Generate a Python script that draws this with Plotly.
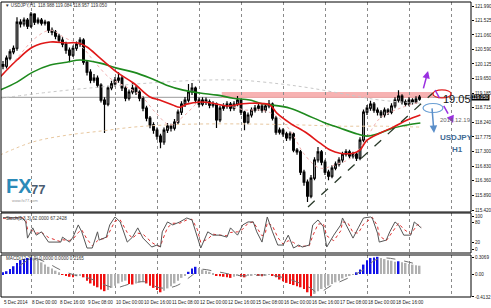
import plotly.graph_objects as go

# ---------------- DATA ----------------
# time axis in hours since 5 Dec 2014 08:00 (weekend removed), 2-hour bars
bar_hours = list(range(0, 240, 2))

opens = [120.10,120.05,120.31,120.51,120.63,121.47,121.41,121.54,121.34,121.73,
121.47,121.54,121.44,121.47,121.21,121.15,121.02,120.89,120.76,120.57,
120.41,120.63,120.76,120.89,120.18,119.86,119.60,119.67,119.44,118.96,
118.83,119.35,119.48,119.60,119.67,119.35,119.02,119.22,119.35,119.22,
119.02,118.70,118.38,118.16,117.99,117.80,117.61,117.99,118.12,118.06,
118.25,118.57,118.83,118.96,119.22,119.35,118.96,118.83,118.96,118.90,
118.80,118.83,118.32,118.70,118.77,118.83,118.70,118.83,118.96,118.57,
118.25,118.48,118.64,118.70,118.77,118.64,118.77,118.83,118.38,117.93,
117.99,117.87,117.74,117.87,117.35,117.29,116.64,116.32,115.87,116.45,
117.03,117.29,116.96,116.64,116.51,116.77,116.90,117.03,117.22,117.29,
117.16,117.22,117.09,117.67,118.57,118.70,118.83,118.64,118.57,118.48,
118.64,118.57,118.77,118.96,119.09,118.90,118.83,118.96,118.90,118.99]

highs = [120.22,120.40,120.60,120.72,121.63,121.56,121.62,121.60,121.80,121.76,
121.62,121.60,121.55,121.50,121.30,121.22,121.10,120.98,120.84,120.65,
120.72,120.85,120.98,120.95,120.25,119.95,119.80,119.75,119.50,119.05,
119.42,119.58,119.70,119.86,119.74,119.42,119.30,119.54,119.42,119.28,
119.08,118.78,118.45,118.25,118.08,117.88,118.08,118.22,118.20,118.35,
118.66,118.92,119.06,119.48,119.51,119.40,119.04,119.05,119.04,118.98,
118.92,118.88,118.78,118.86,118.92,118.90,118.92,119.09,119.00,118.62,
118.56,118.72,118.80,118.86,118.84,118.86,118.96,118.88,118.45,118.08,
118.05,117.94,117.95,117.92,117.42,117.35,116.72,116.40,116.55,117.12,
117.45,117.35,117.04,116.72,116.86,116.98,117.12,117.30,117.38,117.36,
117.30,117.28,117.76,118.66,118.80,118.94,118.90,118.72,118.64,118.72,
118.70,118.86,119.05,119.28,119.15,118.98,119.05,119.02,119.08,119.12]

lows = [119.95,119.98,120.24,120.44,120.55,121.30,121.33,121.25,121.28,121.38,
121.40,121.36,121.36,121.12,121.05,120.92,120.80,120.66,120.45,120.18,
120.35,120.55,120.68,120.10,119.75,119.50,119.52,119.35,118.88,117.90,
118.76,119.28,119.40,119.52,119.25,118.92,118.95,119.15,119.12,118.92,
118.60,118.28,118.05,117.88,117.68,117.41,117.52,117.90,117.95,117.98,
118.18,118.48,118.74,118.88,119.12,118.86,118.72,118.76,118.80,118.70,
118.72,118.06,118.25,118.62,118.68,118.60,118.62,118.76,118.48,117.99,
118.18,118.40,118.56,118.62,118.55,118.56,118.70,118.30,117.84,117.85,
117.78,117.64,117.66,117.28,117.20,116.55,116.20,115.68,115.80,116.38,
116.95,116.86,116.55,116.38,116.44,116.70,116.82,116.95,117.14,117.08,
117.08,117.00,117.02,117.60,118.48,118.62,118.55,118.46,118.38,118.40,
118.48,118.50,118.70,118.88,118.82,118.75,118.76,118.82,118.84,118.94]

closes = [120.05,120.31,120.51,120.63,121.47,121.41,121.54,121.34,121.73,121.47,
121.54,121.44,121.47,121.21,121.15,121.02,120.89,120.76,120.57,120.41,
120.63,120.76,120.89,120.18,119.86,119.60,119.67,119.44,118.96,118.83,
119.35,119.48,119.60,119.67,119.35,119.02,119.22,119.35,119.22,119.02,
118.70,118.38,118.16,117.99,117.80,117.61,117.99,118.12,118.06,118.25,
118.57,118.83,118.96,119.22,119.35,118.96,118.83,118.96,118.90,118.80,
118.83,118.32,118.70,118.77,118.83,118.70,118.83,118.96,118.57,118.25,
118.48,118.64,118.70,118.77,118.64,118.77,118.83,118.38,117.93,117.99,
117.87,117.74,117.87,117.35,117.29,116.64,116.32,115.87,116.45,117.03,
117.29,116.96,116.64,116.51,116.77,116.90,117.03,117.22,117.29,117.16,
117.22,117.09,117.67,118.57,118.70,118.83,118.64,118.57,118.48,118.64,
118.57,118.77,118.96,119.09,118.90,118.83,118.96,118.90,118.99,119.06]

# moving averages (hour, price)
red_ma_h = [-1.7,8,17,27,36.5,43,48,55.5,65,74.5,84,89.5,97,101,105,112.5,120,128,135.5,141,152.5,156.5,164,173.5,181,187,192.5,200,204,208,215.5,223,231,238.5]
red_ma = [119.70,120.25,120.67,120.83,120.80,120.80,120.67,120.31,119.86,119.51,119.06,118.96,118.80,118.73,118.83,118.90,118.86,118.77,118.83,118.86,118.80,118.54,118.22,117.90,117.58,117.35,117.25,117.25,117.35,117.67,117.90,118.09,118.32,118.48]

green_ma_h = [-1.7,8,17,27,36.5,44,55.5,65,74.5,84,93.5,103,112.5,122.5,131.5,141,147,164,173.5,183,192.5,202.5,208,215.5,223,231,238.5]
green_ma = [119.28,119.54,119.86,120.09,120.18,120.25,120.15,119.99,119.86,119.67,119.44,119.28,119.19,119.12,119.02,118.96,118.86,118.70,118.48,118.25,118.06,117.87,117.80,117.90,118.06,118.16,118.22]

tan_ma_h = [-1.7,17,36.5,55.5,74.5,93.5,112.5,141,169.5,192.5,215.5,238.5]
tan_ma = [117.19,117.61,117.83,117.96,118.09,118.16,118.19,118.19,118.16,118.12,118.12,118.09]

gray_ma_h = [-1.7,27,55.5,84,112.5,135.5,158.5,175.5,198.5,215.5,238.5]
gray_ma = [119.02,119.22,119.38,119.51,119.60,119.60,119.48,119.35,119.12,118.96,118.86]

pink_ma_h = [0,9.5,18.5,27,35.5,44,52.5,61,69.5,78.5,87,95.5,104,112.5,121,129.5,138.5,147,155.5,164,172.5,181,189.5,198.5,207,215.5,227,238.5]
pink_ma = [119.77,120.41,120.96,121.21,120.96,120.73,120.18,119.67,119.41,119.12,118.57,118.16,118.48,118.90,118.83,118.77,118.64,118.64,118.48,117.99,117.19,116.77,116.87,117.09,117.67,118.38,118.70,118.90]

# stochastic (5,3,3)
stoch_h = [0,6,11,13,14,17,19,22,26,33,34,38,40,43,45,48,51,54,55,59,61,64,67,71,74,77,80,85,88,90,91,94,97,101,105,108,111,113,117,120,124,128,130,134,137,140,143,145,148,150,151,154,157,160,163,166,169,171,175,177,180,183,185,189,193,194,197,200,203,206,210,211,214,215,219,221,224,226,229,233,235,237,239]
stoch_main = [95,95,94,82,33,64,42,52,21,21,36,21,36,73,52,3,3,52,27,36,73,97,82,21,36,64,33,6,12,6,52,82,73,82,94,88,33,3,52,42,42,36,64,42,73,82,82,52,21,73,97,52,12,12,42,3,12,6,12,73,88,68,6,42,73,94,64,33,64,94,97,94,48,21,27,52,82,73,42,42,82,73,64]
stoch_signal = [93,95,95,88,60,55,48,50,35,22,28,26,30,50,58,30,10,25,30,32,55,85,88,50,32,48,45,20,10,8,25,65,78,78,88,90,60,20,30,45,42,40,50,52,60,78,82,65,40,50,80,70,35,15,25,20,8,8,10,40,75,78,40,25,55,82,80,50,48,75,92,96,70,40,25,40,65,78,60,45,60,75,67]

# MACD histogram (per 2-hour bar) and signal
macd_hist = [0.03,0.05,0.09,0.14,0.20,0.25,0.27,0.29,0.30,0.29,
0.25,0.21,0.17,0.13,0.10,0.06,0.03,-0.01,-0.03,-0.05,
-0.06,-0.04,-0.03,-0.06,-0.12,-0.17,-0.21,-0.24,-0.28,-0.31,
-0.29,-0.25,-0.21,-0.17,-0.14,-0.12,-0.18,-0.19,-0.17,-0.15,
-0.14,-0.17,-0.21,-0.25,-0.29,-0.33,-0.30,-0.26,-0.22,-0.17,
-0.12,-0.07,-0.03,0.04,0.10,0.13,0.11,0.08,0.06,0.04,
0.02,-0.02,-0.04,-0.05,-0.06,-0.07,-0.05,-0.03,-0.05,-0.06,
-0.03,-0.02,-0.01,-0.03,-0.04,-0.02,-0.01,-0.02,-0.06,-0.10,
-0.13,-0.16,-0.18,-0.20,-0.22,-0.24,-0.27,-0.33,-0.40,-0.36,
-0.31,-0.27,-0.24,-0.21,-0.18,-0.15,-0.12,-0.08,-0.05,-0.03,
-0.01,0.03,0.08,0.17,0.25,0.29,0.30,0.31,0.29,0.27,
0.25,0.24,0.22,0.23,0.21,0.20,0.18,0.17,0.16,0.15]
macd_sig_h = [9.5,17,24,32.5,41,49.5,58.5,64,72.5,81,89.5,98.5,107,112.5,121,135.5,152.5,164,175.5,180,187,200,207,212.5,218.5,238.5]
macd_sig = [0.15,0.28,0.22,0.08,-0.02,-0.08,-0.20,-0.25,-0.18,-0.14,-0.25,-0.22,-0.05,0.08,0.05,-0.03,-0.02,-0.10,-0.25,-0.34,-0.22,-0.03,0.10,0.25,0.29,0.16]

price_ticks = [121.990,121.525,121.060,120.590,120.125,119.650,119.185,118.715,118.240,117.775,117.300,116.830,116.360,115.890,115.420]
day_grid_hours = [16,40,64,88,112,136,160,184,208,232,256]
time_label_hours = [0,16,32,48,64,80,96,112,128,144,160,176,192,208,224]
time_labels = ["5 Dec 2014","8 Dec 00:00","8 Dec 16:00","9 Dec 08:00","10 Dec 00:00","10 Dec 16:00",
               "11 Dec 08:00","12 Dec 00:00","12 Dec 16:00","15 Dec 08:00","16 Dec 00:00","16 Dec 16:00",
               "17 Dec 08:00","18 Dec 00:00","18 Dec 16:00"]
bid = 119.05
zone_top, zone_bottom = 119.22, 119.03

# ---------------- FIGURE ----------------
W, H = 491, 308
PL, PR = 1, 471          # plot area left/right in pixels
PW = PR - PL
FONT = "Liberation Sans"
fig = go.Figure()

fig.add_trace(go.Candlestick(x=bar_hours, open=opens, high=highs, low=lows, close=closes,
    increasing=dict(line=dict(color="black", width=1.2), fillcolor="white"),
    decreasing=dict(line=dict(color="black", width=1.2), fillcolor="black"),
    whiskerwidth=0, xaxis="x", yaxis="y", showlegend=False))

fig.add_trace(go.Scatter(x=gray_ma_h, y=gray_ma, mode="lines", line=dict(color="#c8c8c8", width=1, dash="dot"), yaxis="y", line_shape="spline"))
fig.add_trace(go.Scatter(x=tan_ma_h, y=tan_ma, mode="lines", line=dict(color="#e8c8a0", width=1, dash="dot"), yaxis="y", line_shape="spline"))
fig.add_trace(go.Scatter(x=pink_ma_h, y=pink_ma, mode="lines", line=dict(color="#f0b0b0", width=1, dash="dot"), yaxis="y", line_shape="spline"))
fig.add_trace(go.Scatter(x=green_ma_h, y=green_ma, mode="lines", line=dict(color="#1e8a1e", width=1.6), yaxis="y", line_shape="spline"))
fig.add_trace(go.Scatter(x=red_ma_h, y=red_ma, mode="lines", line=dict(color="#e01818", width=1.6), yaxis="y", line_shape="spline"))

fig.add_trace(go.Scatter(x=stoch_h, y=stoch_signal, mode="lines", line=dict(color="#e03030", width=1, dash="dot"), yaxis="y2"))
fig.add_trace(go.Scatter(x=stoch_h, y=stoch_main, mode="lines", line=dict(color="#555555", width=1), yaxis="y2"))

cols = []
for i, v in enumerate(macd_hist):
    prev = macd_hist[i - 1] if i > 0 else 0
    if v > 0 and v >= prev:
        cols.append("#1010e8")
    elif v < 0 and v <= prev:
        cols.append("#f01010")
    else:
        cols.append("#b0b0b0")
fig.add_trace(go.Bar(x=bar_hours, y=macd_hist, marker=dict(color=cols, line=dict(width=0)), width=1.1, yaxis="y3"))
fig.add_trace(go.Scatter(x=macd_sig_h, y=macd_sig, mode="lines", line=dict(color="#707070", width=1, dash="dash"), yaxis="y3", line_shape="spline"))

def ydom(top_px, bot_px):
    return [(H - bot_px) / H, (H - top_px) / H]

def px_x(px):
    return (px - PL) / PW

main_dom = ydom(2, 212)
stoch_dom = ydom(213, 253)
macd_dom = ydom(255, 297)

axis_font = dict(family=FONT, size=4.6, color="#222")
fig.update_layout(
    width=W, height=H, margin=dict(l=PL, r=W - PR, t=0, b=0),
    paper_bgcolor="white", plot_bgcolor="white", showlegend=False,
    xaxis=dict(domain=[0, 1], range=[-1.14, 267.43], anchor="y3", showticklabels=False,
               tickvals=day_grid_hours, ticks="", showgrid=True, gridcolor="#8a8a8a", griddash="dot",
               gridwidth=1, zeroline=False, rangeslider=dict(visible=False), showline=False),
    yaxis=dict(domain=main_dom, range=[115.356, 122.119], side="right", anchor="x",
               tickvals=price_ticks, ticktext=[f"{t:.3f}" for t in price_ticks],
               ticks="outside", ticklen=2, tickcolor="#000", tickfont=axis_font,
               showgrid=False, zeroline=False, automargin=False),
    yaxis2=dict(domain=stoch_dom, range=[-12.1, 109.1], side="right", anchor="x",
                tickvals=[0, 20, 80, 100], ticks="outside", ticklen=2, tickcolor="#000", tickfont=axis_font,
                showgrid=False, zeroline=False, automargin=False),
    yaxis3=dict(domain=macd_dom, range=[-0.415, 0.343], side="right", anchor="x",
                tickvals=[-0.4132, 0, 0.3069], ticktext=["-0.4132", "0.00", "0.3069"],
                ticks="outside", ticklen=2, tickcolor="#000", tickfont=axis_font,
                showgrid=False, zeroline=False, automargin=False),
)

shapes = []
for dom in (main_dom, stoch_dom, macd_dom):
    shapes.append(dict(type="rect", xref="paper", yref="paper", x0=0, x1=1, y0=dom[0], y1=dom[1],
                       line=dict(color="#000", width=1), fillcolor="rgba(0,0,0,0)", layer="above"))
shapes.append(dict(type="rect", xref="x", yref="y", x0=125, x1=245.7, y0=zone_bottom, y1=zone_top,
                   fillcolor="#f6a5a5", opacity=0.85, line=dict(width=0), layer="below"))
shapes.append(dict(type="line", xref="paper", yref="y", x0=0, x1=1, y0=bid, y1=bid,
                   line=dict(color="#9a9a9a", width=1), layer="below"))
shapes.append(dict(type="line", xref="x", yref="y", x0=174.3, y0=115.52, x1=245.7, y1=119.19,
                   line=dict(color="#2a3a2a", width=1.3, dash="dash")))
shapes.append(dict(type="circle", xref="x", yref="y", x0=245.7, x1=256, y0=119.03, y1=119.29,
                   line=dict(color="#e02020", width=1.2)))
shapes.append(dict(type="circle", xref="x", yref="y", x0=240, x1=251.4, y0=118.56, y1=118.85,
                   line=dict(color="#6a9fd4", width=1.2)))
shapes.append(dict(type="line", xref="x", yref="y", x0=246.9, y0=119.285, x1=256, y1=118.35,
                   line=dict(color="#9a30e0", width=1.5, dash="dash")))
fig.update_layout(shapes=shapes)

ann = []
ann.append(dict(x=242.9, y=119.90, ax=240, ay=119.29, xref="x", yref="y", axref="x", ayref="y",
                text="", showarrow=True, arrowhead=2, arrowsize=1, arrowwidth=1.5, arrowcolor="#9a30e0"))
ann.append(dict(x=257.2, y=118.22, ax=255.6, ay=118.45, xref="x", yref="y", axref="x", ayref="y",
                text="", showarrow=True, arrowhead=2, arrowsize=1, arrowwidth=1.5, arrowcolor="#9a30e0"))
ann.append(dict(x=246.3, y=117.90, ax=245.1, ay=118.74, xref="x", yref="y", axref="x", ayref="y",
                text="", showarrow=True, arrowhead=2, arrowsize=1, arrowwidth=1.5, arrowcolor="#5b8fc9"))
ann.append(dict(x=px_x(490), y=bid, xref="paper", yref="y", xanchor="right", yanchor="middle",
                text="119.050", showarrow=False, bgcolor="#000", font=dict(family=FONT, size=4.6, color="#fff"),
                borderpad=0))
ann.append(dict(x=px_x(441), y=118.98, xref="paper", yref="y", xanchor="left", yanchor="middle", text="19.05",
                showarrow=False, font=dict(family=FONT, size=11, color="#111")))
ann.append(dict(x=px_x(455), y=118.32, xref="paper", yref="y", xanchor="center", yanchor="middle", text="2014.12.19",
                showarrow=False, font=dict(family=FONT, size=6, color="#666")))
ann.append(dict(x=px_x(456), y=117.77, xref="paper", yref="y", xanchor="center", yanchor="middle", text="<b>USDJPY</b>",
                showarrow=False, font=dict(family=FONT, size=8, color="#3f6b94")))
ann.append(dict(x=px_x(457), y=117.38, xref="paper", yref="y", xanchor="center", yanchor="middle", text="<b>H1</b>",
                showarrow=False, font=dict(family=FONT, size=8, color="#3f6b94")))
ann.append(dict(x=px_x(3), y=(H - 5) / H, xref="paper", yref="paper", xanchor="left", yanchor="middle",
                text="▼ USDJPY,H1  118.988 119.084 118.957 119.050", showarrow=False,
                font=dict(family=FONT, size=4.6, color="#333")))
ann.append(dict(x=px_x(4), y=(H - 218) / H, xref="paper", yref="paper", xanchor="left", yanchor="middle",
                text="Stoch(5,3,3) 62.0000 67.2428", showarrow=False, font=dict(family=FONT, size=4.6, color="#333")))
ann.append(dict(x=px_x(4), y=(H - 258) / H, xref="paper", yref="paper", xanchor="left", yanchor="middle",
                text="MACD(12,26,9) 0.0000 0.0000 0.2165", showarrow=False, font=dict(family=FONT, size=4.6, color="#333")))
ann.append(dict(x=px_x(4), y=(H - 186) / H, xref="paper", yref="paper", xanchor="left", yanchor="middle",
                text="<b>FX</b>", showarrow=False, font=dict(family=FONT, size=20, color="#2b8ab8")))
ann.append(dict(x=px_x(29), y=(H - 189) / H, xref="paper", yref="paper", xanchor="left", yanchor="middle",
                text="<b>77</b>", showarrow=False, font=dict(family=FONT, size=13, color="#4a5c70")))
ann.append(dict(x=px_x(10), y=(H - 200) / H, xref="paper", yref="paper", xanchor="left", yanchor="middle",
                text="www.fx77.com", showarrow=False, font=dict(family=FONT, size=4, color="#999")))
for hh, lab in zip(time_label_hours, time_labels):
    ann.append(dict(x=hh, y=(H - 302) / H, xref="x", yref="paper", xanchor="left", yanchor="middle",
                    xshift=-1, text=lab, showarrow=False, font=dict(family=FONT, size=4.6, color="#222")))
fig.update_layout(annotations=ann)

fig.write_html("out.html")
